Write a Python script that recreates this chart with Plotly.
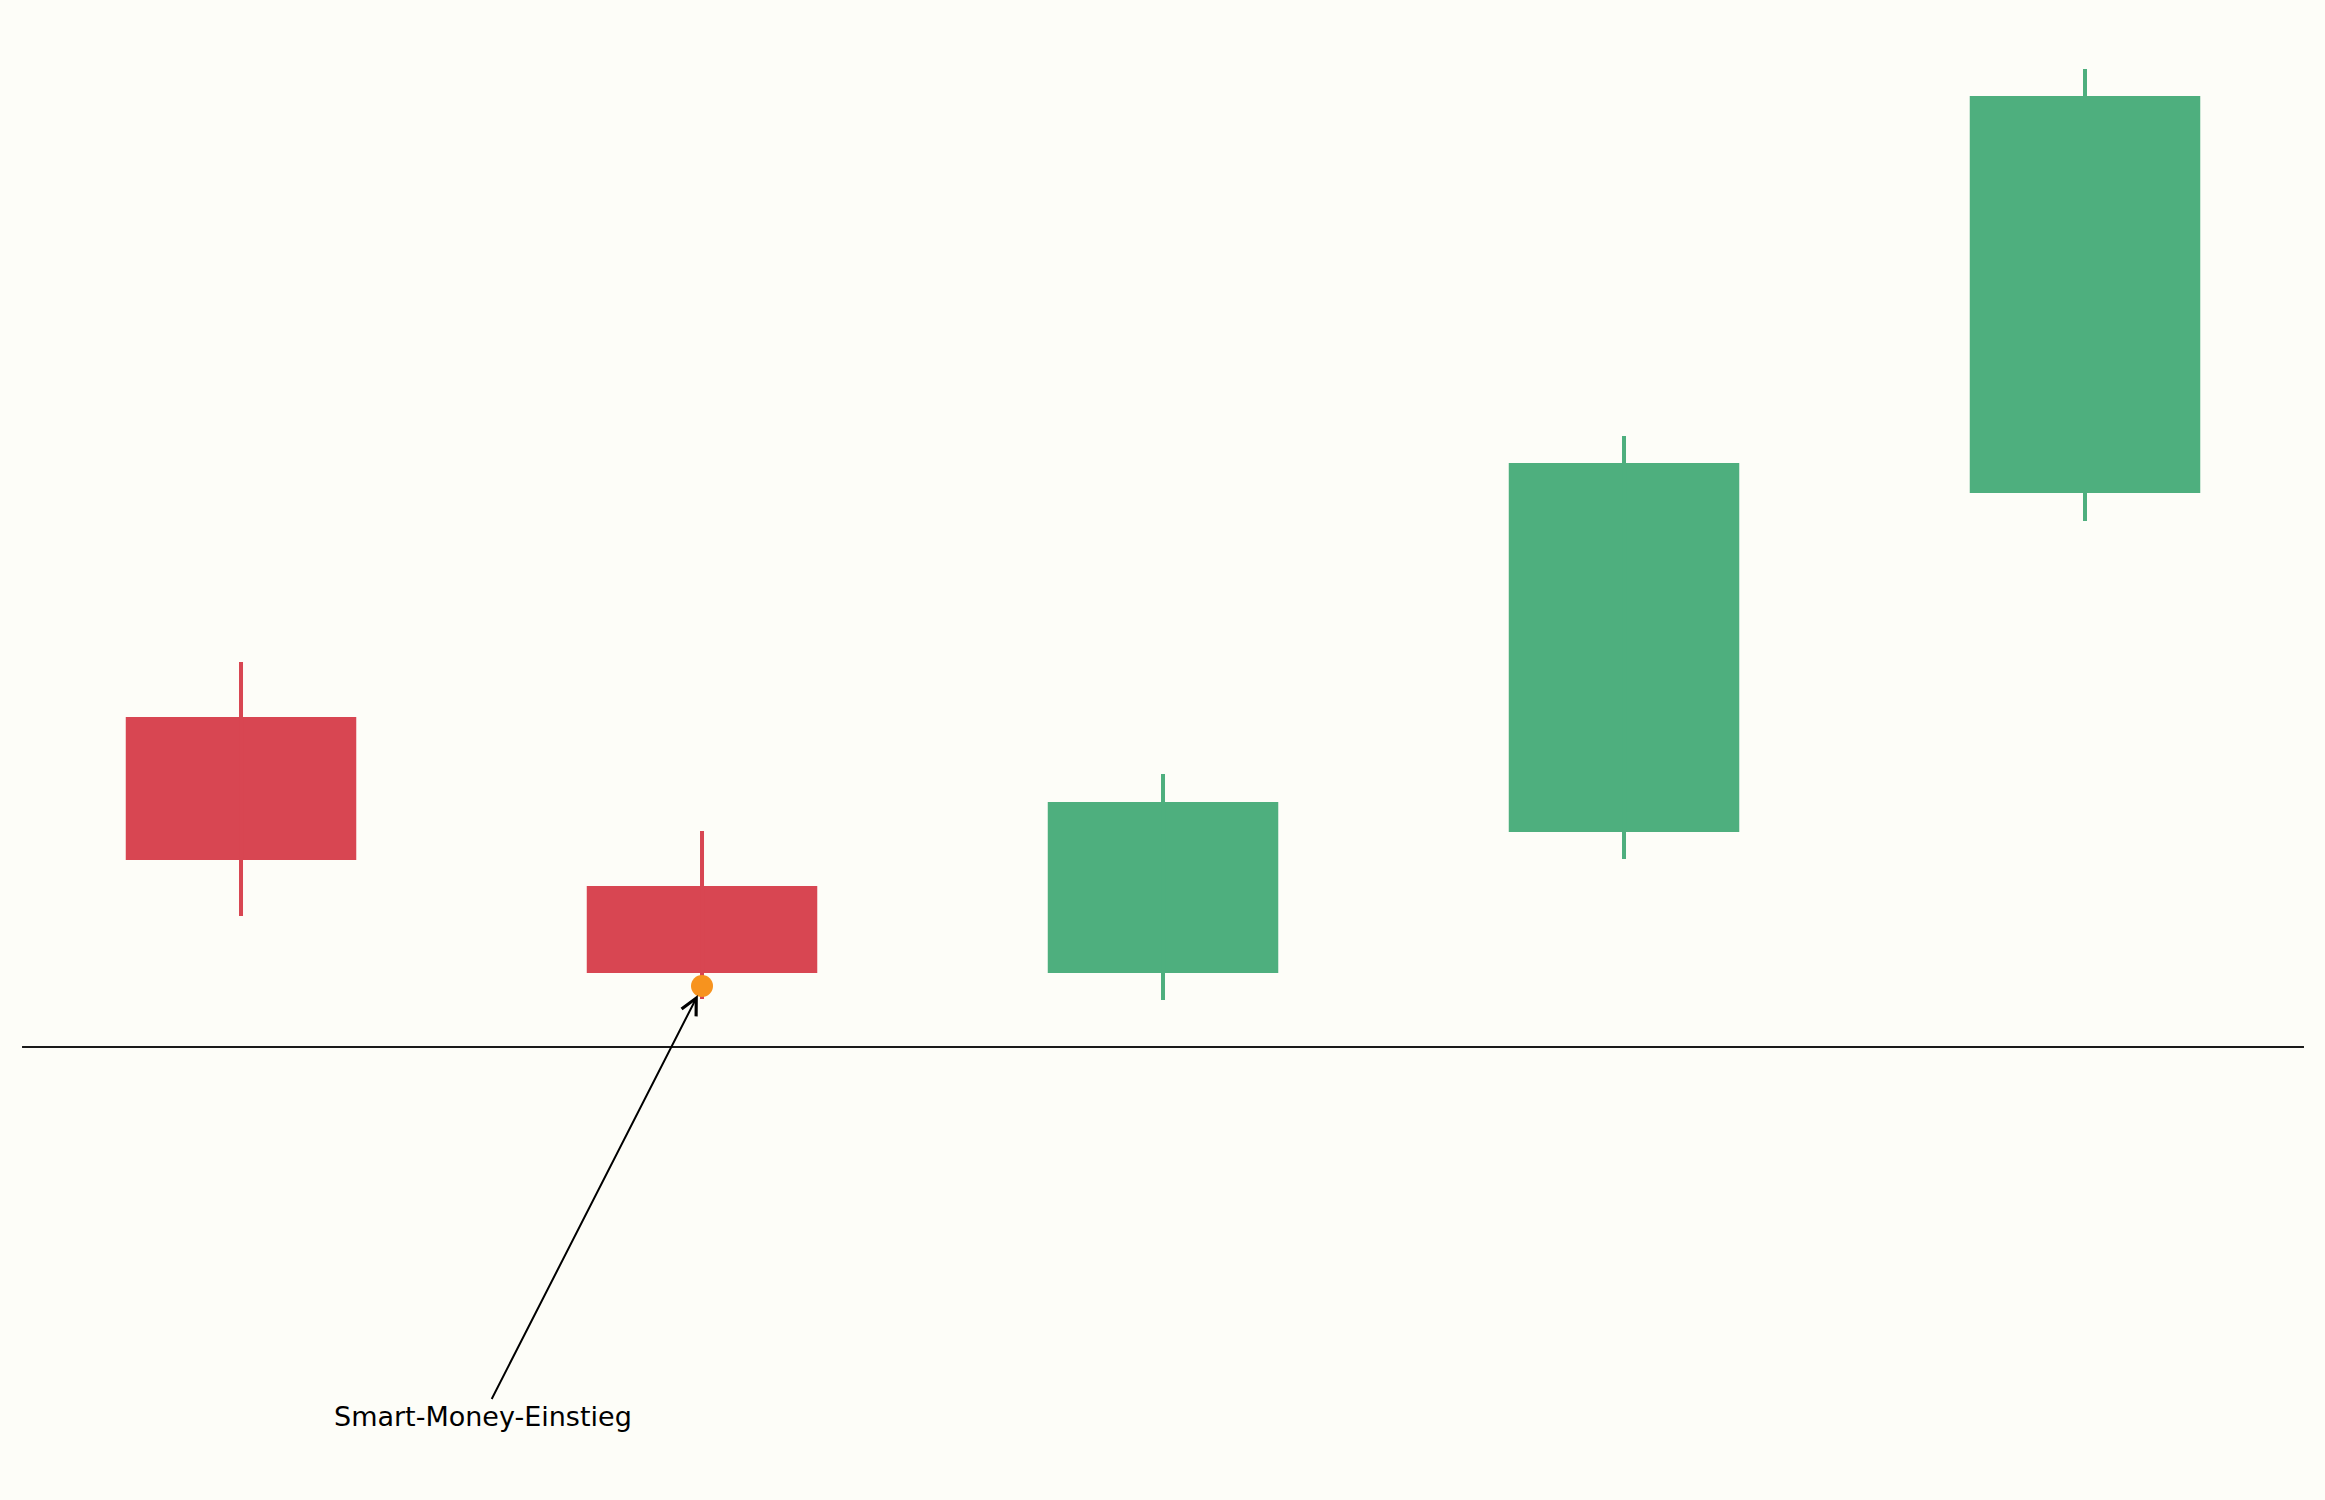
import plotly.graph_objects as go

# === Candle data ===
candles = [0, 1, 2, 3, 4]
opens = [106.60, 103.22, 101.48, 104.30, 111.08]
closes = [103.74, 101.48, 104.90, 111.68, 119.02]
highs = [107.70, 104.32, 105.46, 112.22, 119.56]
lows = [102.62, 100.96, 100.94, 103.76, 110.52]

# entry marker + label
entry_x = [1]
entry_y = [101.22]
label_text = "Smart-Money-Einstieg"
label_pos = (0.525, 92.62)
baseline = 100.0

up_color = "#4eaf7e"
down_color = "#d84652"
bg = "#fdfdf8"

fig = go.Figure()

for i, o, c, h, l in zip(candles, opens, closes, highs, lows):
    col = up_color if c >= o else down_color
    # wick
    fig.add_trace(go.Scatter(
        x=[i, i], y=[l, h],
        mode="lines",
        line=dict(color=col, width=4),
        hoverinfo="skip",
        showlegend=False
    ))
    # body
    fig.add_trace(go.Bar(
        x=[i], y=[abs(c - o)], base=[min(o, c)],
        width=0.5,
        marker=dict(color=col, line=dict(width=0)),
        hovertemplate=f"O {o}<br>H {h}<br>L {l}<br>C {c}<extra></extra>",
        showlegend=False
    ))

# entry point
fig.add_trace(go.Scatter(
    x=entry_x, y=entry_y,
    mode="markers",
    marker=dict(color="#f7931e", size=22, line=dict(width=0)),
    hoverinfo="skip",
    showlegend=False
))

# horizontal reference line
fig.add_shape(
    type="line", xref="x", yref="y",
    x0=-0.475, x1=4.475, y0=baseline, y1=baseline,
    line=dict(color="#1a1a1a", width=2),
)

fig.add_annotation(
    x=entry_x[0] - 0.009, y=entry_y[0] - 0.18,
    ax=label_pos[0], ay=label_pos[1],
    axref="x", ayref="y",
    text=label_text,
    showarrow=True,
    arrowhead=5, arrowsize=1.6, arrowwidth=2, arrowcolor="#000000",
    font=dict(family="DejaVu Sans", size=27, color="#000000"),
)

fig.update_layout(
    width=2325, height=1500,
    margin=dict(l=0, r=0, t=0, b=0),
    plot_bgcolor=bg,
    paper_bgcolor=bg,
    barmode="overlay",
    showlegend=False,
    xaxis=dict(range=[-0.5228, 4.5206], visible=False, fixedrange=True),
    yaxis=dict(range=[90.94, 120.94], visible=False, fixedrange=True),
)

fig.write_html(
    "out.html",
    config={"displayModeBar": False},
    post_script="document.body.style.margin='0';document.body.style.overflow='hidden';",
)
